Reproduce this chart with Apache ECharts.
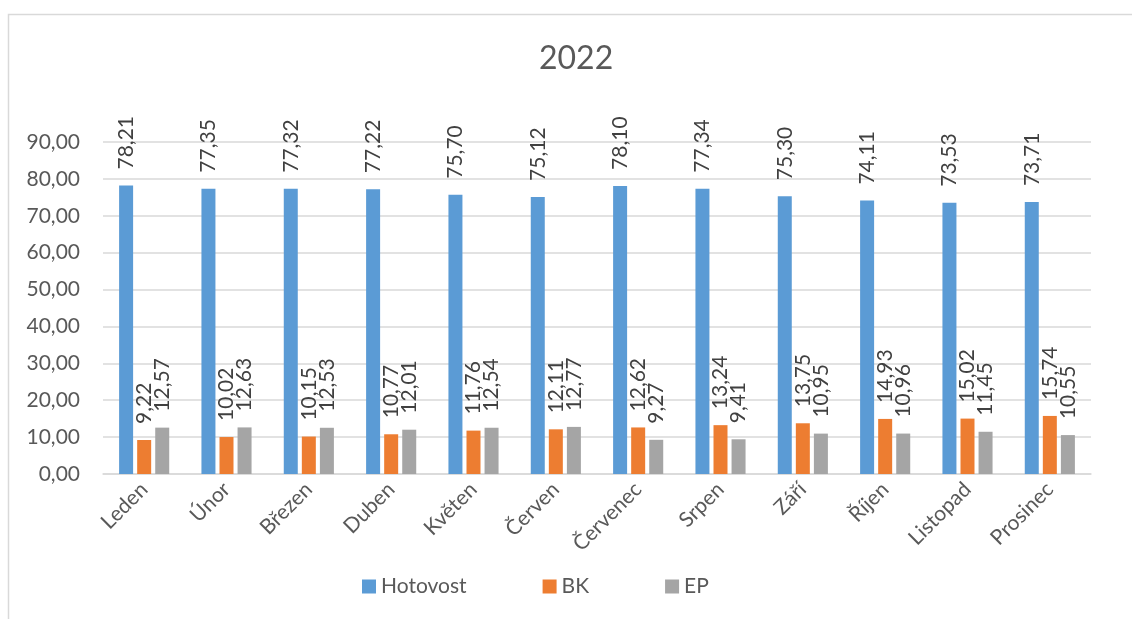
<!DOCTYPE html>
<html>
<head>
<meta charset="utf-8">
<script src="https://cdn.jsdelivr.net/npm/echarts@6/dist/echarts.min.js"></script>
<style>html,body{margin:0;padding:0;background:#fff}#c{width:1132px;height:619px}</style>
</head>
<body>
<div id="c"></div>
<script>
const categories = ['Leden','Únor','Březen','Duben','Květen','Červen','Červenec','Srpen','Září','Říjen','Listopad','Prosinec'];
const hotovost = [78.21,77.35,77.32,77.22,75.70,75.12,78.10,77.34,75.30,74.11,73.53,73.71];
const bk = [9.22,10.02,10.15,10.77,11.76,12.11,12.62,13.24,13.75,14.93,15.02,15.74];
const ep = [12.57,12.63,12.53,12.01,12.54,12.77,9.27,9.41,10.95,10.96,11.45,10.55];
const yTicks = {min:0, max:90, interval:10};

const FONT = 'Lato, "Open Sans", sans-serif';
const TXT = '#595959';
const FS = 21;
const fmt = v => v.toFixed(2).replace('.', ',');
const lbl = {
  show:true, position:'top', rotate:90, distance:16, align:'left', verticalAlign:'middle',
  color:'#404040', fontSize:FS, fontFamily:FONT,
  formatter: p => fmt(p.value)
};
function s(name, data, color){
  return {name, type:'bar', data, barWidth:14, barGap:'29%', itemStyle:{color}, label:lbl};
}
const chart = echarts.init(document.getElementById('c'));
chart.setOption({
  animation:false,
  textStyle:{fontFamily:FONT},
  title:{text:'2022', left:534, top:38, textStyle:{fontSize:32, fontWeight:'normal', color:TXT, fontFamily:FONT}},
  graphic:[{type:'rect', shape:{x:8.5, y:14.5, width:1200, height:700}, style:{fill:'none', stroke:'#d9d9d9', lineWidth:1.5}, silent:true}],
  legend:{
    top:571, left:357, itemGap:76, itemWidth:14, itemHeight:14, icon:'rect',
    textStyle:{fontSize:FS, color:TXT, fontFamily:FONT},
    data:['Hotovost','BK','EP']
  },
  grid:{left:103, right:41, top:142, bottom:145},
  xAxis:{
    type:'category', data:categories,
    axisLine:{lineStyle:{color:'#d9d9d9', width:1.5}},
    axisTick:{show:false},
    axisLabel:{rotate:45, fontSize:FS, color:TXT, fontFamily:FONT, margin:12, interval:0}
  },
  yAxis:{
    type:'value', min:yTicks.min, max:yTicks.max, interval:yTicks.interval,
    axisLine:{show:false}, axisTick:{show:false},
    splitLine:{lineStyle:{color:'#d9d9d9', width:1.5}},
    axisLabel:{fontSize:FS, color:TXT, fontFamily:FONT, margin:23, formatter:fmt}
  },
  series:[s('Hotovost', hotovost, '#5B9BD5'), s('BK', bk, '#ED7D31'), s('EP', ep, '#A5A5A5')]
});
</script>
</body>
</html>
